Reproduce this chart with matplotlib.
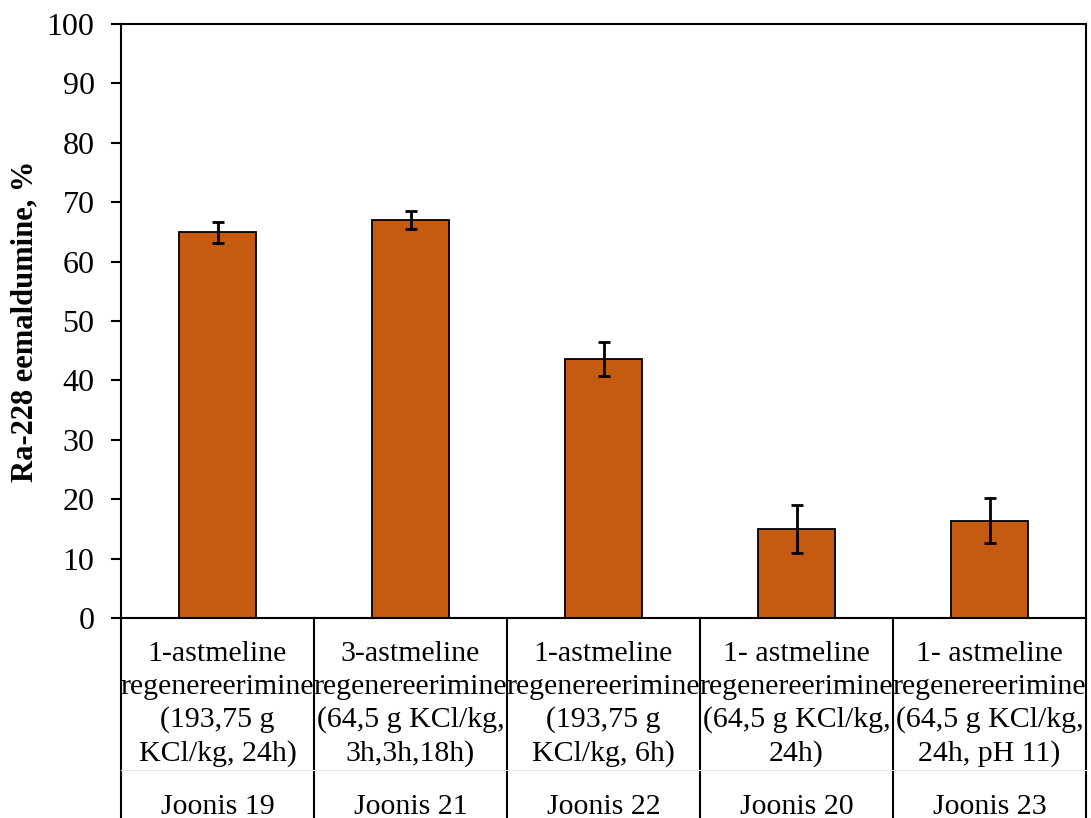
import numpy as np
import matplotlib
matplotlib.use("Agg")
import matplotlib.pyplot as plt
import matplotlib.transforms as mtransforms

plt.rcParams['font.family'] = ['Liberation Serif', 'DejaVu Serif']

# data
conditions = ["1-astmeline\nregenereerimine\n(193,75 g\nKCl/kg, 24h)",
              "3-astmeline\nregenereerimine\n(64,5 g KCl/kg,\n3h,3h,18h)",
              "1-astmeline\nregenereerimine\n(193,75 g\nKCl/kg, 6h)",
              "1- astmeline\nregenereerimine\n(64,5 g KCl/kg,\n24h)",
              "1- astmeline\nregenereerimine\n(64,5 g KCl/kg,\n24h, pH 11)"]
figures = ["Joonis 19", "Joonis 21", "Joonis 22", "Joonis 20", "Joonis 23"]
removal = [64.9, 67.0, 43.6, 15.0, 16.4]
errors = [1.8, 1.5, 2.8, 4.1, 3.8]
yticks = list(range(0, 101, 10))

W, H = 1091, 818
fig = plt.figure(figsize=(W / 100, H / 100), dpi=100)
ax = fig.add_axes([121 / W, (H - 618) / H, (1086 - 121) / W, (618 - 24) / H])

x = np.arange(len(removal))
ax.bar(x, removal, width=0.4, color='#C55A11', edgecolor='black', linewidth=1.3,
       yerr=errors, error_kw=dict(ecolor='black', elinewidth=2, capsize=4.5, capthick=2))

ax.set_xlim(-0.5, len(removal) - 0.5)
ax.set_ylim(0, 100)
ax.set_yticks(yticks)
ax.tick_params(axis='y', labelsize=23, length=7, width=1.5, direction='out', pad=12)
ax.set_xticks([])
for s in ax.spines.values():
    s.set_linewidth(1.5)
ax.set_ylabel('Ra-228 eemaldumine, %', fontsize=22, fontweight='bold', labelpad=5)

# two-level category axis (Excel style)
trans = mtransforms.blended_transform_factory(ax.transData, fig.transFigure)
y_low = -0.02
for b in np.arange(-0.5, len(removal), 1.0):
    ax.plot([b, b], [(H - 618) / H, y_low], transform=trans, color='black',
            linewidth=1.5, clip_on=False)
ax.plot([-0.5, len(removal) - 0.5], [(H - 770) / H] * 2, transform=trans,
        color='#e6e6e6', linewidth=0.8, clip_on=False)
for i in range(len(removal)):
    ax.text(x[i], (H - 704) / H, conditions[i], transform=trans, ha='center',
            va='center', fontsize=21.5, linespacing=1.33)
    ax.text(x[i], (H - 814) / H, figures[i], transform=trans, ha='center',
            va='baseline', fontsize=21.5)

fig.savefig('out.png', dpi=100)
